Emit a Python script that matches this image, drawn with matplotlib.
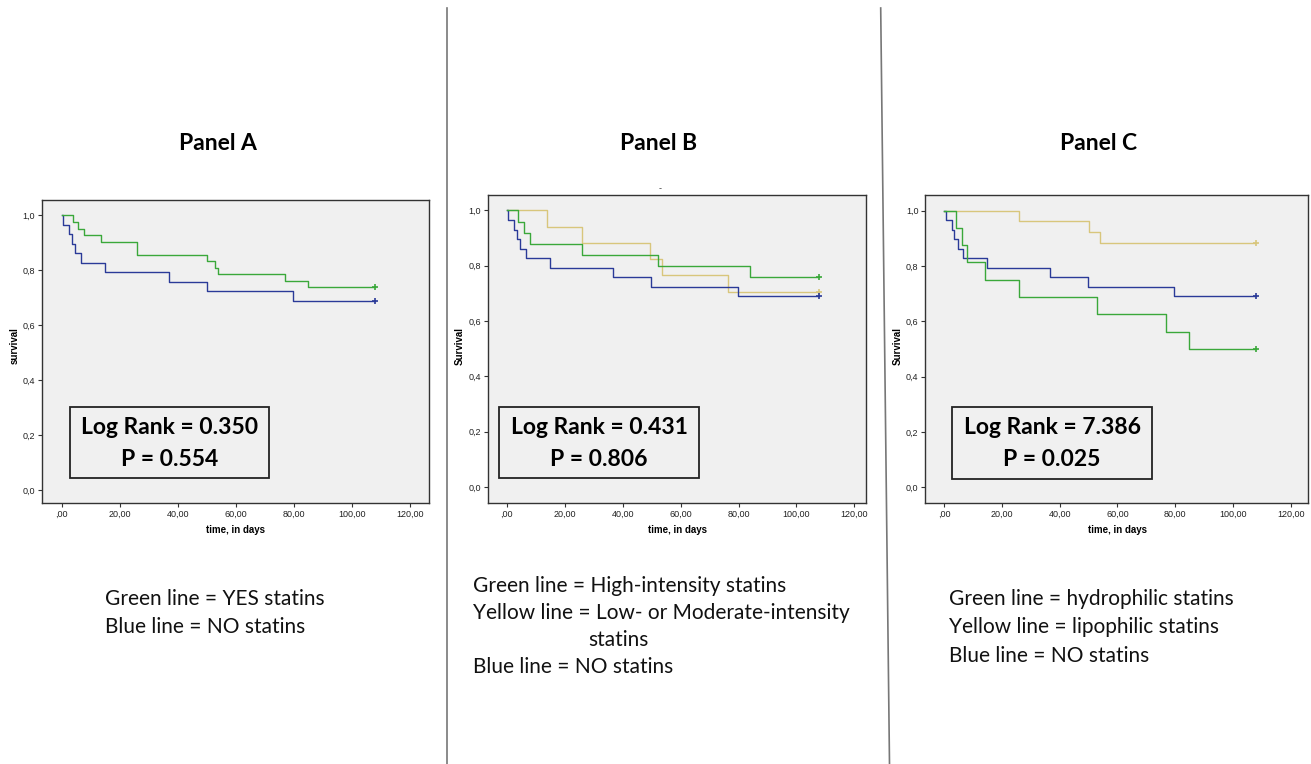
import matplotlib
matplotlib.use("Agg")
import matplotlib.pyplot as plt
from matplotlib.lines import Line2D
from matplotlib.patches import Rectangle

W, H = 1311, 764

# Kaplan-Meier steps (time in days, survival)
blue_t = [0, 0.6, 2.6, 3.6, 4.7, 6.7, 14.9, 36.8, 49.9, 79.7, 107.8]
blue_s = [1.0, 0.966, 0.931, 0.897, 0.862, 0.828, 0.793, 0.759, 0.724, 0.690, 0.690]

a_green_t = [0, 3.8, 5.7, 7.8, 13.6, 25.8, 49.9, 52.8, 53.7, 76.9, 84.9, 107.8]
a_green_s = [1.0, 0.976, 0.952, 0.929, 0.905, 0.857, 0.833, 0.810, 0.786, 0.762, 0.738, 0.738]

b_green_t = [0, 4.0, 6.0, 8.0, 25.9, 52.3, 84.1, 107.8]
b_green_s = [1.0, 0.96, 0.92, 0.88, 0.84, 0.80, 0.76, 0.76]
b_yellow_t = [0, 13.8, 25.9, 49.6, 53.5, 76.3, 107.8]
b_yellow_s = [1.0, 0.941, 0.882, 0.824, 0.765, 0.706, 0.706]

c_green_t = [0, 4.0, 6.1, 8.1, 14.1, 26.0, 52.8, 76.8, 84.7, 107.8]
c_green_s = [1.0, 0.938, 0.875, 0.813, 0.750, 0.688, 0.625, 0.563, 0.500, 0.500]
c_yellow_t = [0, 26.0, 50.0, 53.9, 107.8]
c_yellow_s = [1.0, 0.962, 0.923, 0.885, 0.885]

x_ticks = [0, 20, 40, 60, 80, 100, 120]
x_ticklabels = [",00", "20,00", "40,00", "60,00", "80,00", "100,00", "120,00"]
y_ticks = [0.0, 0.2, 0.4, 0.6, 0.8, 1.0]
y_ticklabels = ["0,0", "0,2", "0,4", "0,6", "0,8", "1,0"]

titles = ["Panel A", "Panel B", "Panel C"]
ylabels = ["survival", "Survival", "Survival"]
stats = [("0.350", "0.554"), ("0.431", "0.806"), ("7.386", "0.025")]

GREEN = "#3aa83a"
BLUE = "#2a3a98"
YELLOW = "#d8c67c"

fig = plt.figure(figsize=(W / 100, H / 100), dpi=100)


def px(x, y):
    return x / W, 1 - y / H


def make_axes(left, top, right, bottom, xlim, ylim):
    ax = fig.add_axes([left / W, 1 - bottom / H, (right - left) / W, (bottom - top) / H])
    ax.set_facecolor("#f0f0f0")
    ax.set_xlim(*xlim)
    ax.set_ylim(*ylim)
    ax.set_xticks(x_ticks)
    ax.set_xticklabels(x_ticklabels)
    ax.set_yticks(y_ticks)
    ax.set_yticklabels(y_ticklabels)
    ax.tick_params(length=3, width=0.8, color="#333333", labelsize=6.5, pad=2,
                   labelcolor="#222222")
    for lab in ax.get_xticklabels() + ax.get_yticklabels():
        lab.set_family("Liberation Sans")
    for sp in ax.spines.values():
        sp.set_color("#333333")
        sp.set_linewidth(1.0)
    return ax


def km(ax, t, s, color):
    ax.step(t, s, where="post", color=color, lw=1.0)
    ax.plot(t[-1], s[-1], marker="+", color=color, ms=5, mew=1.2)


axes = [
    make_axes(41.7, 200, 429, 503.3, (-6.88, 126.4), (-0.047, 1.056)),
    make_axes(487.7, 195, 866, 502.7, (-6.56, 124.0), (-0.057, 1.056)),
    make_axes(925.3, 195, 1308, 503.3, (-6.47, 125.9), (-0.058, 1.057)),
]

km(axes[0], blue_t, blue_s, BLUE)
km(axes[0], a_green_t, a_green_s, GREEN)

km(axes[1], b_yellow_t, b_yellow_s, YELLOW)
km(axes[1], blue_t, blue_s, BLUE)
km(axes[1], b_green_t, b_green_s, GREEN)

km(axes[2], c_yellow_t, c_yellow_s, YELLOW)
km(axes[2], blue_t, blue_s, BLUE)
km(axes[2], c_green_t, c_green_s, GREEN)

# axis titles and panel headings
title_x = [218, 659, 1099]
ylab_x = [15, 460, 898]
xlab_x = [235, 678, 1117]
for i in range(3):
    fig.text(*px(title_x[i], 143), titles[i], family="Lato", weight="bold",
             fontsize=16.5, ha="center", va="center")
    fig.text(*px(ylab_x[i], 346), ylabels[i], family="Liberation Sans", weight="bold",
             fontsize=7, rotation=90, ha="center", va="center")
    fig.text(*px(xlab_x[i], 530), "time, in days", family="Liberation Sans",
             weight="bold", fontsize=7, ha="center", va="center")

# Log Rank boxes
boxes = [(70, 407, 269, 478), (499, 407, 699, 478), (952, 407, 1152, 479)]
for (x0, y0, x1, y1), (lr, p) in zip(boxes, stats):
    fig.patches.append(Rectangle(px(x0, y1), (x1 - x0) / W, (y1 - y0) / H,
                                 transform=fig.transFigure, fill=False,
                                 ec="#222222", lw=1.3))
    cx = (x0 + x1) / 2
    fig.text(*px(cx, 428), f"Log Rank = {lr}", family="Lato", weight="bold",
             fontsize=16.5, ha="center", va="center")
    fig.text(*px(cx, 459), f"P = {p}", family="Lato", weight="bold",
             fontsize=16.5, ha="center", va="center")

# small dash above panel B
fig.text(*px(660, 189), "-", fontsize=6, ha="center", va="center", color="#444444")

# legends written under the panels
legend_kw = dict(family="Lato", fontsize=15, va="center", ha="left", color="#111111")
fig.text(*px(105, 599), "Green line = YES statins", **legend_kw)
fig.text(*px(105, 627), "Blue line = NO statins", **legend_kw)

fig.text(*px(473, 586), "Green line = High-intensity statins", **legend_kw)
fig.text(*px(473, 613), "Yellow line = Low- or Moderate-intensity", **legend_kw)
fig.text(*px(588, 640), "statins", **legend_kw)
fig.text(*px(473, 667), "Blue line = NO statins", **legend_kw)

fig.text(*px(949, 599), "Green line = hydrophilic statins", **legend_kw)
fig.text(*px(949, 627), "Yellow line = lipophilic statins", **legend_kw)
fig.text(*px(949, 656), "Blue line = NO statins", **legend_kw)

# panel dividers
fig.add_artist(Line2D([446.7 / W, 446.7 / W], [1 - 8 / H, 0], transform=fig.transFigure,
                      color="#777777", lw=1.2))
fig.add_artist(Line2D([880.7 / W, 889.5 / W], [1 - 8 / H, 0], transform=fig.transFigure,
                      color="#777777", lw=1.2))

fig.savefig("out.png", dpi=100, facecolor="white")
